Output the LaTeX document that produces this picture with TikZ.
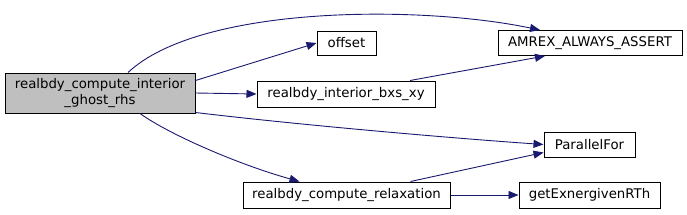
\documentclass[tikz,border=0pt]{standalone}
\usepackage{fontspec}
\setmainfont{DejaVu Sans}
\usetikzlibrary{arrows.meta,positioning}
\definecolor{edgeblue}{HTML}{191970}
\definecolor{rootgray}{HTML}{BFBFBF}

\begin{document}
\begin{tikzpicture}[
    x=1pt, y=-1pt,
    fn/.style={draw, line width=1pt, inner sep=0pt, align=center, font=\fontsize{13.3}{15.5}\selectfont},
    root/.style={fn, fill=rootgray},
    call/.style={edgeblue, line width=0.9pt, -{Triangle[length=10pt,width=8pt]}}
]
    \useasboundingbox (0,0) rectangle (687,214);
    \node[root, minimum width=190pt, minimum height=40pt] (main) at (100,93) {realbdy\_compute\_interior\\\_ghost\_rhs};
    \node[fn, minimum width=59pt, minimum height=24pt] (offset) at (346.5,43) {offset};
    \node[fn, minimum width=178pt, minimum height=26pt] (bxs) at (346,94) {realbdy\_interior\_bxs\_xy};
    \node[fn, minimum width=184pt, minimum height=25pt] (assert) at (590,43) {AMREX\_ALWAYS\_ASSERT};
    \node[fn, minimum width=91pt, minimum height=25pt] (pfor) at (589.5,144.5) {ParallelFor};
    \node[fn, minimum width=207pt, minimum height=26pt] (relax) at (346.5,195) {realbdy\_compute\_relaxation};
    \node[fn, minimum width=141pt, minimum height=26pt] (exner) at (589.5,195) {getExnergivenRTh};
    % calls
    \draw[call] ([xshift=28pt]main.north) .. controls (200,5) and (420,5) .. ([xshift=-50pt]assert.north);
    \draw[call] ([yshift=-8pt]main.north east) -- (offset.west);
    \draw[call] (main.east) -- (bxs.west);
    \draw[call] ([xshift=64pt]bxs.north) -- ([xshift=-45pt]assert.south);
    \draw[call] ([yshift=1pt]main.south east) .. controls (300,125) and (450,138) .. (pfor.west);
    \draw[call] ([xshift=40pt]main.south) .. controls (170,135) and (240,165) .. ([xshift=-47pt]relax.north);
    \draw[call] ([xshift=64pt]relax.north) -- ([yshift=5pt]pfor.south west);
    \draw[call] (relax.east) -- (exner.west);
\end{tikzpicture}
\end{document}
